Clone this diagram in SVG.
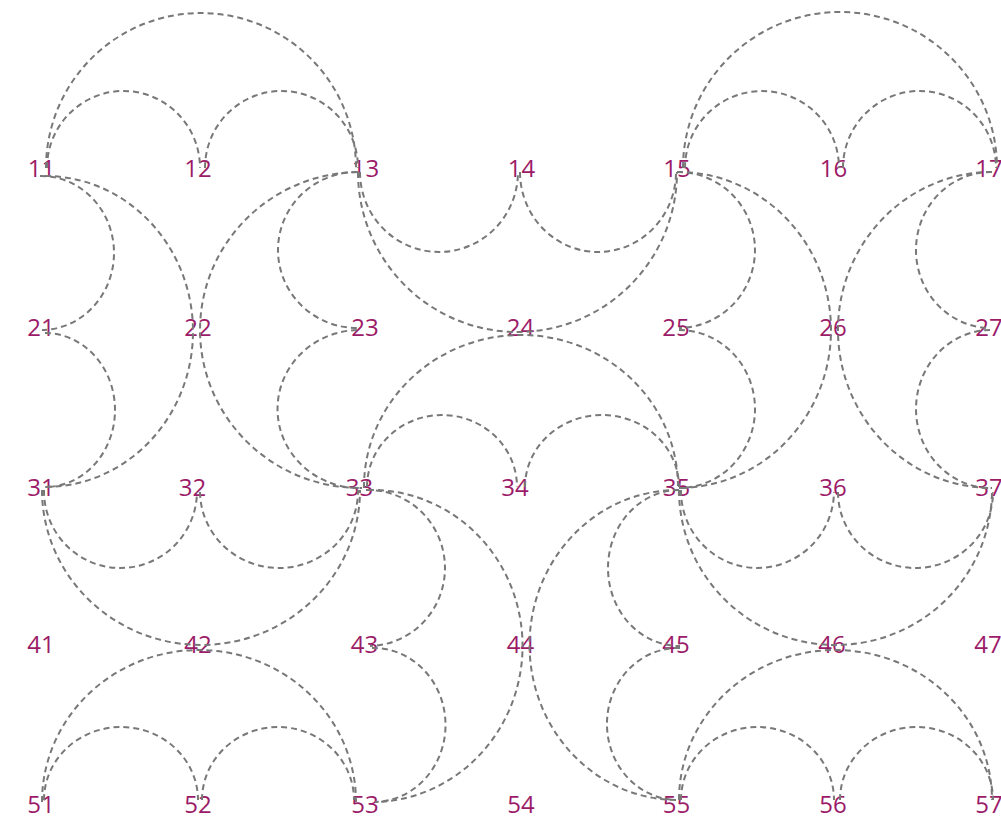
<svg xmlns="http://www.w3.org/2000/svg" width="1001" height="819" viewBox="0 0 1001 819">
<style>
.lbl{font-family:"Open Sans","Noto Sans","Liberation Sans",sans-serif;font-size:24px;fill:#9c1b68;text-anchor:middle}
.arc{fill:none;stroke:#787878;stroke-width:2;stroke-dasharray:6 4}
</style>
<rect width="1001" height="819" fill="#ffffff"/>
<g id="nodes">
<g id="n11"><text class="lbl" x="41.5" y="177">11</text></g>
<g id="n12"><text class="lbl" x="198" y="177">12</text></g>
<g id="n13"><text class="lbl" x="365.5" y="177">13</text></g>
<g id="n14"><text class="lbl" x="521.5" y="177">14</text></g>
<g id="n15"><text class="lbl" x="677" y="177">15</text></g>
<g id="n16"><text class="lbl" x="833.5" y="177">16</text></g>
<g id="n17"><text class="lbl" x="989" y="177">17</text></g>
<g id="n21"><text class="lbl" x="41" y="336">21</text></g>
<g id="n22"><text class="lbl" x="198" y="336">22</text></g>
<g id="n23"><text class="lbl" x="365" y="336">23</text></g>
<g id="n24"><text class="lbl" x="520.5" y="336">24</text></g>
<g id="n25"><text class="lbl" x="676" y="336">25</text></g>
<g id="n26"><text class="lbl" x="833" y="336">26</text></g>
<g id="n27"><text class="lbl" x="989" y="336">27</text></g>
<g id="n31"><text class="lbl" x="41" y="496">31</text></g>
<g id="n32"><text class="lbl" x="192.5" y="496">32</text></g>
<g id="n33"><text class="lbl" x="359.5" y="496">33</text></g>
<g id="n34"><text class="lbl" x="515" y="496">34</text></g>
<g id="n35"><text class="lbl" x="676.5" y="496">35</text></g>
<g id="n36"><text class="lbl" x="833" y="496">36</text></g>
<g id="n37"><text class="lbl" x="989" y="496">37</text></g>
<g id="n41"><text class="lbl" x="41" y="653">41</text></g>
<g id="n42"><text class="lbl" x="198" y="653">42</text></g>
<g id="n43"><text class="lbl" x="364.5" y="653">43</text></g>
<g id="n44"><text class="lbl" x="520.5" y="653">44</text></g>
<g id="n45"><text class="lbl" x="676" y="653">45</text></g>
<g id="n46"><text class="lbl" x="832" y="653">46</text></g>
<g id="n47"><text class="lbl" x="988" y="653">47</text></g>
<g id="n51"><text class="lbl" x="41" y="813">51</text></g>
<g id="n52"><text class="lbl" x="198" y="813">52</text></g>
<g id="n53"><text class="lbl" x="365" y="813">53</text></g>
<g id="n54"><text class="lbl" x="521" y="813">54</text></g>
<g id="n55"><text class="lbl" x="676.5" y="813">55</text></g>
<g id="n56"><text class="lbl" x="833" y="813">56</text></g>
<g id="n57"><text class="lbl" x="989" y="813">57</text></g>
</g>
<g id="connectors">
<!-- row 1 -->
<path class="arc" d="M46 168 A155 155 0 0 1 356 168"/>
<path class="arc" d="M47 168 A76.5 77 0 0 1 200 168"/>
<path class="arc" d="M205 168 A76.5 77 0 0 1 358 168"/>
<path class="arc" d="M358 172 A159.5 160 0 0 0 677 172"/>
<path class="arc" d="M360 172 A79 80 0 0 0 518 172"/>
<path class="arc" d="M520 172 A78 80 0 0 0 676 172"/>
<path class="arc" d="M683 168 A157 156 0 0 1 997 168"/>
<path class="arc" d="M685 168 A77 77 0 0 1 839 168"/>
<path class="arc" d="M843 168 A76.5 77 0 0 1 996 168"/>
<!-- column 1 -->
<path class="arc" d="M40 176 A73 77 0 0 1 42 330"/>
<path class="arc" d="M45 333 A70 77 0 0 1 45 487"/>
<path class="arc" d="M45 176 A148 155.5 0 0 1 45 487"/>
<!-- column 3 upper -->
<path class="arc" d="M358 172 A160 158 0 0 0 362 488"/>
<path class="arc" d="M357 172 A79 78 0 0 0 357 328"/>
<path class="arc" d="M357 330 A82 79 0 0 0 362 488"/>
<!-- column 5 upper -->
<path class="arc" d="M677 172 A153 158 0 0 1 679 488"/>
<path class="arc" d="M677 172 A77 78 0 0 1 679 328"/>
<path class="arc" d="M679 330 A76 79 0 0 1 679 488"/>
<!-- column 7 -->
<path class="arc" d="M992 172 A154 158 0 0 0 992 488"/>
<path class="arc" d="M992 172 A75 78 0 0 0 990 328"/>
<path class="arc" d="M990 330 A75 79 0 0 0 992 488"/>
<!-- row 3 -->
<path class="arc" d="M42 490 A159 155 0 0 0 360 490"/>
<path class="arc" d="M44 490 A76.5 77 0 0 0 197 492"/>
<path class="arc" d="M200 492 A79 77 0 0 0 358 490"/>
<path class="arc" d="M364 488 A157 152 0 0 1 678 486"/>
<path class="arc" d="M367 487 A75 72 0 0 1 517 487"/>
<path class="arc" d="M525 487 A77 72 0 0 1 679 487"/>
<path class="arc" d="M679 490 A156.5 155 0 0 0 992 490"/>
<path class="arc" d="M681 490 A76.5 77 0 0 0 834 492"/>
<path class="arc" d="M838 492 A77.5 76 0 0 0 993 492"/>
<!-- column 3 lower -->
<path class="arc" d="M368 490 A151 156 0 0 1 375 802"/>
<path class="arc" d="M366 490 A77 78 0 0 1 370 646"/>
<path class="arc" d="M372 648 A72 77 0 0 1 375 802"/>
<!-- column 5 lower -->
<path class="arc" d="M679 490 A148 155 0 0 0 676 800"/>
<path class="arc" d="M679 490 A71.5 78 0 0 0 680 646"/>
<path class="arc" d="M680 648 A71 76 0 0 0 676 800"/>
<!-- row 5 -->
<path class="arc" d="M42 802 A157 152 0 0 1 356 802"/>
<path class="arc" d="M44 800 A77 73 0 0 1 198 800"/>
<path class="arc" d="M202 800 A76 73 0 0 1 354 800"/>
<path class="arc" d="M679 800 A156.5 150 0 0 1 992 800"/>
<path class="arc" d="M681 800 A76.5 73 0 0 1 834 800"/>
<path class="arc" d="M840 800 A76.5 73 0 0 1 993 800"/>
</g>
</svg>
